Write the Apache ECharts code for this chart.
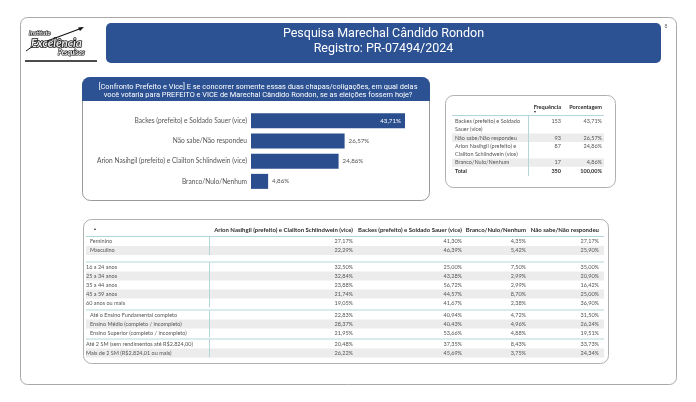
<!DOCTYPE html>
<html><head><meta charset="utf-8">
<script src="https://cdn.jsdelivr.net/npm/echarts@6/dist/echarts.min.js"></script>
<style>html,body{margin:0;padding:0;background:#fff}#c{width:696px;height:402px}</style>
</head><body><div id="c"></div>
<script>
// ---------------- DATA ----------------
const titleLines = ['Pesquisa Marechal Cândido Rondon', 'Registro: PR-07494/2024'];
const questionLines = [
  '[Confronto Prefeito e Vice] E se concorrer somente essas duas chapas/coligações, em qual delas',
  'você votaria para PREFEITO e VICE de Marechal Cândido Rondon, se as eleições fossem hoje?'
];
const barCategories = [
  'Backes (prefeito) e Soldado Sauer (vice)',
  'Não sabe/Não respondeu',
  'Arion Nasihgil (prefeito) e Clailton Schlindwein (vice)',
  'Branco/Nulo/Nenhum'
];
const barValues = [43.71, 26.57, 24.86, 4.86];

const freqHeaders = ['Frequência', 'Porcentagem'];
const freqCounts = [153, 93, 87, 17];
const freqPercents = [43.71, 26.57, 24.86, 4.86];
const freqTotalLabel = 'Total';
const freqTotalCount = 350;
const freqTotalPercent = 100.00;

const crossHeaders = [
  'Arion Nasihgil (prefeito) e Clailton Schlindwein (vice)',
  'Backes (prefeito) e Soldado Sauer (vice)',
  'Branco/Nulo/Nenhum',
  'Não sabe/Não respondeu'
];
const crossRows = [
  'Feminino', 'Masculino',
  '16 a 24 anos', '25 a 34 anos', '35 a 44 anos', '45 a 59 anos', '60 anos ou mais',
  'Até o Ensino Fundamental completo', 'Ensino Médio (completo / incompleto)', 'Ensino Superior (completo / incompleto)',
  'Até 2 SM (sem rendimentos até R$2.824,00)', 'Mais de 2 SM (R$2.824,01 ou mais)'
];
const crossGroupSizes = [2, 5, 3, 2];
const crossArion   = [27.17, 22.29, 32.50, 32.84, 23.88, 21.74, 19.05, 22.83, 28.37, 21.95, 20.48, 26.22];
const crossBackes  = [41.30, 46.39, 25.00, 43.28, 56.72, 44.57, 41.67, 40.94, 40.43, 53.66, 37.35, 45.69];
const crossBranco  = [4.35, 5.42, 7.50, 2.99, 2.99, 8.70, 2.38, 4.72, 4.96, 4.88, 8.43, 3.75];
const crossNaoSabe = [27.17, 25.90, 35.00, 20.90, 16.42, 25.00, 36.90, 31.50, 26.24, 19.51, 33.73, 24.34];

// ---------------- HELPERS ----------------
const pct = v => v.toFixed(2).replace('.', ',') + '%';
const BLUE = '#2c5294';
const LINE = '#b3d6da';
const BAND = '#ececec';
const TXT = '#555';
const HDR = '#2b2b2b';
const FF = 'Lato, "Noto Sans", sans-serif';
const measureCtx = document.createElement('canvas').getContext('2d');
function wrap(text, maxW, font) {
  measureCtx.font = font;
  const words = text.split(' ');
  const lines = []; let cur = '';
  words.forEach(w => {
    const t = cur ? cur + ' ' + w : w;
    if (measureCtx.measureText(t).width > maxW && cur) { lines.push(cur); cur = w; }
    else cur = t;
  });
  if (cur) lines.push(cur);
  return lines;
}
function txt(x, y, text, o) {
  o = o || {};
  return {
    type: 'text', x: x, y: y, z: o.z || 5, silent: true,
    style: {
      text: text, fill: o.fill || TXT,
      font: o.font || ('5.5px ' + FF),
      textAlign: o.align || 'left', textVerticalAlign: 'middle',
      stroke: o.stroke, lineWidth: o.lw || 0
    }
  };
}
function rect(x, y, w, h, o) {
  return { type: 'rect', z: o.z || 1, silent: true, shape: { x: x, y: y, width: w, height: h, r: o.r || 0 },
    style: { fill: o.fill || 'none', stroke: o.stroke || null, lineWidth: o.lw || 1 } };
}
function line(x1, y1, x2, y2, stroke, lw, z) {
  return { type: 'line', z: z || 3, silent: true, shape: { x1: x1, y1: y1, x2: x2, y2: y2 },
    style: { stroke: stroke, lineWidth: lw || 1 } };
}

const g = [];
// outer frame
g.push(rect(20.5, 17.5, 656, 367, { r: 7, stroke: '#a9a9a9', fill: '#fff', z: 0 }));
// logo
g.push(txt(29, 33, 'Instituto', { font: 'bold italic 6px ' + FF, fill: '#fff', stroke: '#111', lw: 1.2 }));
g.push(txt(31, 43.5, 'Excelência', { font: 'bold italic 11.5px ' + FF, fill: '#e8e8e8', stroke: '#111', lw: 1.6 }));
g.push(txt(58, 52.5, 'Pesquisas', { font: 'bold italic 6.5px ' + FF, fill: '#fff', stroke: '#111', lw: 1.2 }));
g.push({ type: 'polyline', z: 6, silent: true, shape: { points: [[47, 41], [58, 37], [82, 28]] }, style: { stroke: '#111', lineWidth: 1.1, fill: 'none' } });
g.push({ type: 'polygon', z: 6, silent: true, shape: { points: [[84, 27], [78, 27.5], [80, 31]] }, style: { fill: '#111' } });
g.push(line(26, 51, 33, 46, '#111', 1, 6));
g.push(line(25, 61, 97, 61, '#111', 1.6, 6));
// title
g.push(rect(106, 23, 555, 40, { r: 5, fill: BLUE }));
titleLines.forEach((t, i) => g.push(txt(383.5, 34 + i * 14.5, t, { font: '12.5px Roboto, sans-serif', fill: '#fff', align: 'center' })));
g.push(txt(666, 26, '8', { font: '5px ' + FF, fill: '#666', align: 'center' }));

// question box
g.push(rect(82.5, 77.5, 347, 123, { r: 8, stroke: '#9a9a9a', fill: '#fff', z: 1 }));
g.push(rect(82, 77, 348, 24, { r: [8, 8, 0, 0], fill: BLUE, z: 2 }));
questionLines.forEach((t, i) => g.push(txt(258, 87.5 + i * 7.8, t, { font: '7.4px Roboto, sans-serif', fill: '#fff', align: 'center' })));

// frequency table
const fx0 = 445, fx1 = 615;
g.push(rect(fx0 + 0.5, 95.5, fx1 - fx0, 92, { r: 8, stroke: '#b0b0b0', fill: '#fff' }));
const fLabelX = 455, fCountX = 561, fPctX = 602, fDivX = 528;
g.push(txt(fCountX, 107, freqHeaders[0], { font: 'bold 5.6px ' + FF, fill: HDR, align: 'right' }));
g.push(txt(fPctX, 107, freqHeaders[1], { font: 'bold 5.6px ' + FF, fill: HDR, align: 'right' }));
g.push(txt(535, 111.5, '▼', { font: '3.5px ' + FF, fill: HDR, align: 'center' }));
g.push(line(452, 115.5, 604, 115.5, LINE, 1));
const fLineH = 8.3;
let fy = 117;
const bodyFont = '5.5px ' + FF;
barCategories.forEach((lab, i) => {
  const lines = wrap(lab, fDivX - fLabelX - 2, bodyFont);
  const h = lines.length * fLineH;
  if (i % 2 === 1) g.push(rect(452, fy, 152, h, { fill: BAND, z: 1 }));
  lines.forEach((l, k) => g.push(txt(fLabelX, fy + fLineH / 2 + k * fLineH, l)));
  g.push(txt(fCountX, fy + fLineH / 2, String(freqCounts[i]), { align: 'right' }));
  g.push(txt(fPctX, fy + fLineH / 2, pct(freqPercents[i]), { align: 'right' }));
  fy += h;
});
g.push(line(fDivX + 0.5, 115.5, fDivX + 0.5, fy + fLineH + 1, LINE, 1));
g.push(txt(fLabelX, fy + fLineH / 2 + 0.5, freqTotalLabel, { font: 'bold 5.5px ' + FF, fill: HDR }));
g.push(txt(fCountX, fy + fLineH / 2 + 0.5, String(freqTotalCount), { font: 'bold 5.5px ' + FF, fill: HDR, align: 'right' }));
g.push(txt(fPctX, fy + fLineH / 2 + 0.5, pct(freqTotalPercent), { font: 'bold 5.5px ' + FF, fill: HDR, align: 'right' }));

// cross table
g.push(rect(83.5, 219.5, 525, 144, { r: 8, stroke: '#b0b0b0', fill: '#fff' }));
const colRight = [353, 462, 526, 599];
const colData = [crossArion, crossBackes, crossBranco, crossNaoSabe];
g.push(txt(95, 229, '▲', { font: '3.5px ' + FF, fill: HDR, align: 'center' }));
crossHeaders.forEach((h, j) => g.push(txt(colRight[j], 230, h, { font: 'bold 6px ' + FF, fill: HDR, align: 'right' })));
g.push(line(86, 236.5, 604, 236.5, LINE, 1));
const rowH = 9;
const gapsAfter = [7.5, 3, 2, 0];
const labelIndent = [90, 86, 90, 86];
let ry = 237, ri = 0;
crossGroupSizes.forEach((n, gi) => {
  const gTop = ry;
  for (let k = 0; k < n; k++) {
    if (k % 2 === 1) g.push(rect(86, ry, 518, rowH, { fill: BAND, z: 1 }));
    const cy = ry + rowH / 2;
    g.push(txt(labelIndent[gi], cy, crossRows[ri]));
    colData.forEach((arr, j) => g.push(txt(colRight[j], cy, pct(arr[ri]), { align: 'right' })));
    ry += rowH; ri++;
  }
  g.push(line(209.5, gTop, 209.5, ry, LINE, 1));
  ry += gapsAfter[gi];
  if (gi < crossGroupSizes.length - 1) g.push(line(86, ry - 0.5, 604, ry - 0.5, LINE, 1));
});

// ---------------- CHART ----------------
const maxV = Math.max.apply(null, barValues);
const chart = echarts.init(document.getElementById('c'), null, { renderer: 'canvas' });
chart.setOption({
  animation: false,
  backgroundColor: '#fff',
  graphic: { elements: g },
  grid: { left: 251, top: 110.5, width: 154, height: 81 },
  xAxis: { type: 'value', min: 0, max: maxV, show: false },
  yAxis: {
    type: 'category', data: barCategories, inverse: true, z: 10,
    axisLine: { show: false }, axisTick: { show: false }, splitLine: { show: false },
    axisLabel: { fontSize: 6.6, color: TXT, margin: 4, fontFamily: FF }
  },
  series: [{
    type: 'bar', barWidth: 15, z: 10,
    itemStyle: { color: '#2b4e8f' },
    data: barValues.map(v => ({
      value: v,
      label: v === maxV
        ? { show: true, position: 'insideRight', distance: 4, color: '#fff', fontSize: 6.2, fontFamily: FF, formatter: p => pct(p.value) }
        : { show: true, position: 'right', distance: 4, color: TXT, fontSize: 6.2, fontFamily: FF, formatter: p => pct(p.value) }
    }))
  }]
});
</script></body></html>
